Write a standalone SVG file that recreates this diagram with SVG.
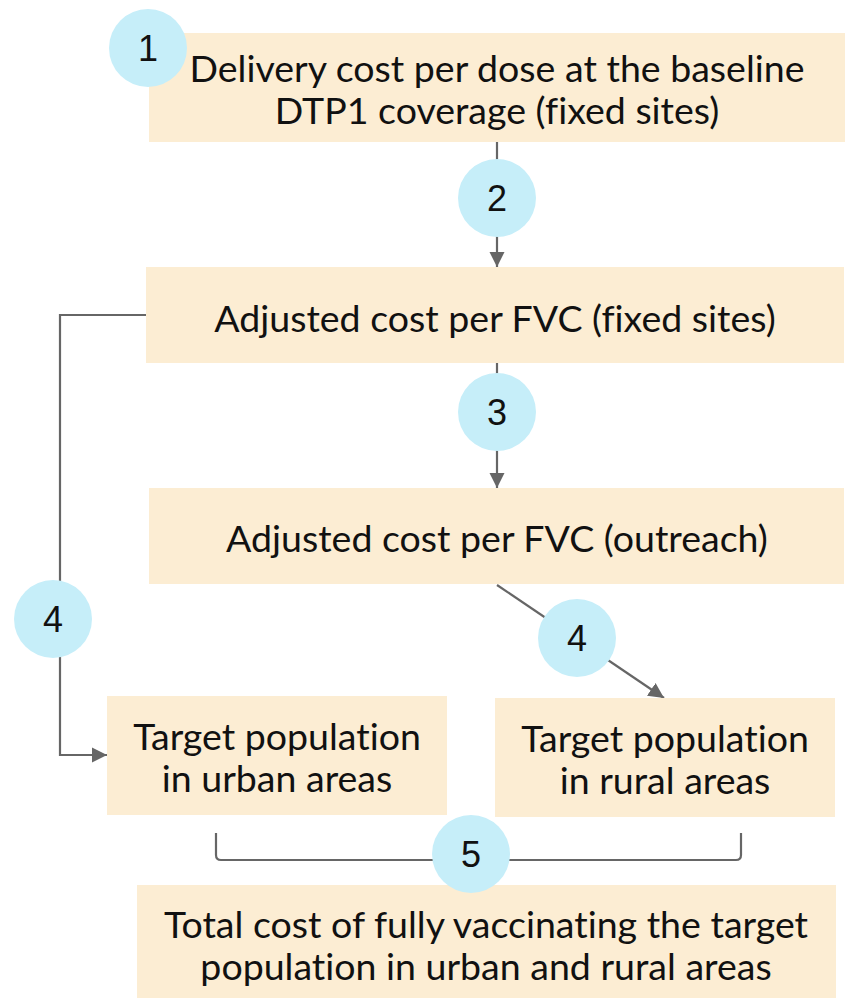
<svg xmlns="http://www.w3.org/2000/svg" width="845" height="998" viewBox="0 0 845 998">
<style>
.box{fill:#fcedd3}
.t{font-family:Lato,"Liberation Sans",sans-serif;font-size:37.5px;fill:#111;text-anchor:middle;font-variant-ligatures:none}
.c{fill:#c6eef9}
.n{font-family:"Liberation Sans",Arial,sans-serif;font-size:36px;fill:#111;text-anchor:middle}
.ln{fill:none;stroke:#666;stroke-width:2.2}
</style>
<defs>
<marker id="ah" viewBox="0 0 10 10" refX="10" refY="5" markerWidth="7" markerHeight="7" markerUnits="strokeWidth" orient="auto">
<path d="M0,0 L10,5 L0,10 z" fill="#666"/>
</marker>
</defs>
<rect width="845" height="998" fill="#fff"/>
<g id="connectors">
<line class="ln" x1="497" y1="142" x2="497" y2="267" marker-end="url(#ah)"/>
<line class="ln" x1="497" y1="363" x2="497" y2="488" marker-end="url(#ah)"/>
<polyline class="ln" points="146,315 60,315 60,755 107,755" marker-end="url(#ah)"/>
<line class="ln" x1="497" y1="585" x2="664" y2="698" marker-end="url(#ah)"/>
<path class="ln" d="M216,833 V855 Q216,860 221,860 H736 Q741,860 741,855 V833"/>
</g>
<g id="node1">
<rect class="box" x="149" y="33" width="696" height="109"/>
<text class="t" x="497" y="82">Delivery cost per dose at the baseline</text>
<text class="t" x="497" y="124">DTP1 coverage (fixed sites)</text>
</g>
<g id="node2">
<rect class="box" x="146" y="267" width="698" height="96"/>
<text class="t" x="495" y="332">Adjusted cost per FVC (fixed sites)</text>
</g>
<g id="node3">
<rect class="box" x="149" y="488" width="695" height="96"/>
<text class="t" x="497" y="552">Adjusted cost per FVC (outreach)</text>
</g>
<g id="node4">
<rect class="box" x="107" y="696" width="340" height="119"/>
<text class="t" x="277" y="750">Target population</text>
<text class="t" x="277" y="792">in urban areas</text>
</g>
<g id="node5">
<rect class="box" x="495" y="698" width="340" height="119"/>
<text class="t" x="665" y="752">Target population</text>
<text class="t" x="665" y="794">in rural areas</text>
</g>
<g id="node6">
<rect class="box" x="137" y="885" width="699" height="113"/>
<text class="t" x="486" y="938">Total cost of fully vaccinating the target</text>
<text class="t" x="486" y="980">population in urban and rural areas</text>
</g>
<g id="step1"><circle class="c" cx="148" cy="48" r="39"/><text class="n" x="148" y="61">1</text></g>
<g id="step2"><circle class="c" cx="497" cy="198" r="39"/><text class="n" x="497" y="211">2</text></g>
<g id="step3"><circle class="c" cx="497" cy="412" r="39"/><text class="n" x="497" y="425">3</text></g>
<g id="step4a"><circle class="c" cx="53" cy="619" r="39"/><text class="n" x="53" y="632">4</text></g>
<g id="step4b"><circle class="c" cx="577" cy="638" r="39"/><text class="n" x="577" y="651">4</text></g>
<g id="step5"><circle class="c" cx="471" cy="854" r="39"/><text class="n" x="471" y="867">5</text></g>
</svg>
